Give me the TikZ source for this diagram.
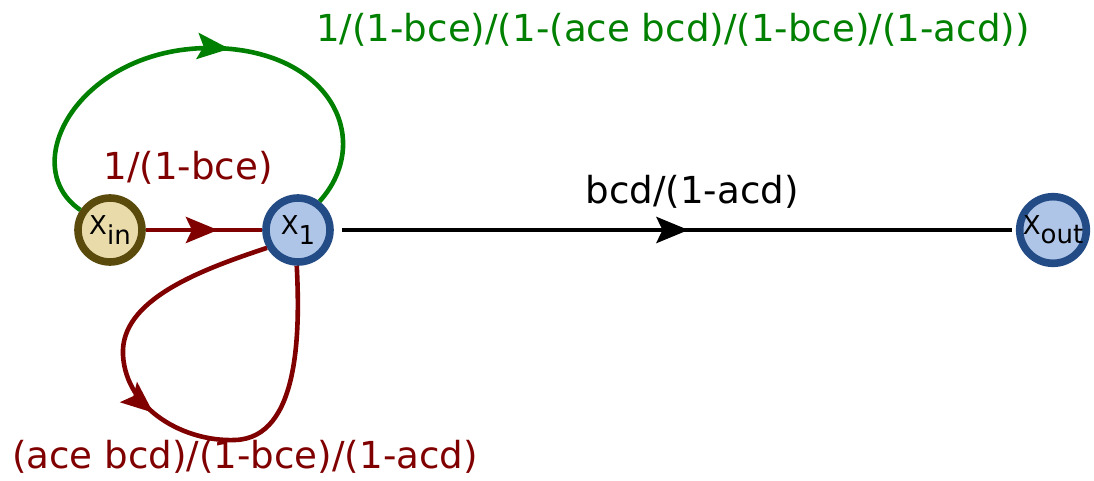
\documentclass[tikz,border=0pt]{standalone}
\usepackage{fontspec}
\setmainfont{DejaVu Sans}
\usetikzlibrary{arrows.meta,decorations.markings}
\definecolor{infill}{HTML}{E9DCAA}
\definecolor{inborder}{HTML}{5A4A0C}
\definecolor{bluefill}{HTML}{AFC5E8}
\definecolor{blueborder}{HTML}{234B85}
\definecolor{darkred}{HTML}{800000}
\definecolor{darkgreen}{HTML}{008000}

\begin{document}
\begin{tikzpicture}[
    x=0.5pt, y=-0.5pt,
    every node/.style={font=\fontsize{18.6}{22}\selectfont},
    state/.style={circle, line width=3.8pt, minimum size=32pt, inner sep=0pt, font=\fontsize{13}{15}\selectfont},
    instate/.style={state, draw=inborder, fill=infill},
    bluestate/.style={state, draw=blueborder, fill=bluefill},
    edge/.style={line width=2.3pt},
    % arrow head in the middle of a path
    midarrow/.style={postaction={decorate}, decoration={markings,
        mark=at position #1 with {\arrow{Stealth[length=16pt, width=13pt, inset=3pt]}}}}
]
\useasboundingbox (0,0) rectangle (1094,481);

% Nodes
\node[instate] (xin) at (110, 230) {X\raisebox{-0.35em}{in}};
\node[bluestate] (x1) at (298, 230) {X\raisebox{-0.35em}{1}};
\node[bluestate] (xout) at (1053, 230) {X\raisebox{-0.35em}{out}};

% Labels
\node[text=darkgreen] (lgreen) at (673, 30) {1/(1-bce)/(1-(ace bcd)/(1-bce)/(1-acd))};
\node[text=darkred] (lin) at (188, 168) {1/(1-bce)};
\node (lout) at (692, 192) {bcd/(1-acd)};
\node[text=darkred] (lloop) at (245, 457) {(ace bcd)/(1-bce)/(1-acd)};

% Edges
\draw[edge, darkred, midarrow=0.62] (xin) -- (x1);
\draw[edge, black, midarrow=0.52, shorten <=4pt, shorten >=2pt] (x1) -- (xout);
\draw[edge, darkgreen, midarrow=0.56] (xin.146) .. controls (15,165) and (80,48) .. (210,48)
    .. controls (330,48) and (375,140) .. (x1.53);
\draw[edge, darkred, midarrow=0.47] (x1.210) .. controls (200,270) and (120,300) .. (123,355)
    .. controls (126,410) and (185,442) .. (235,440)
    .. controls (300,438) and (300,330) .. (x1.268);

\end{tikzpicture}
\end{document}
